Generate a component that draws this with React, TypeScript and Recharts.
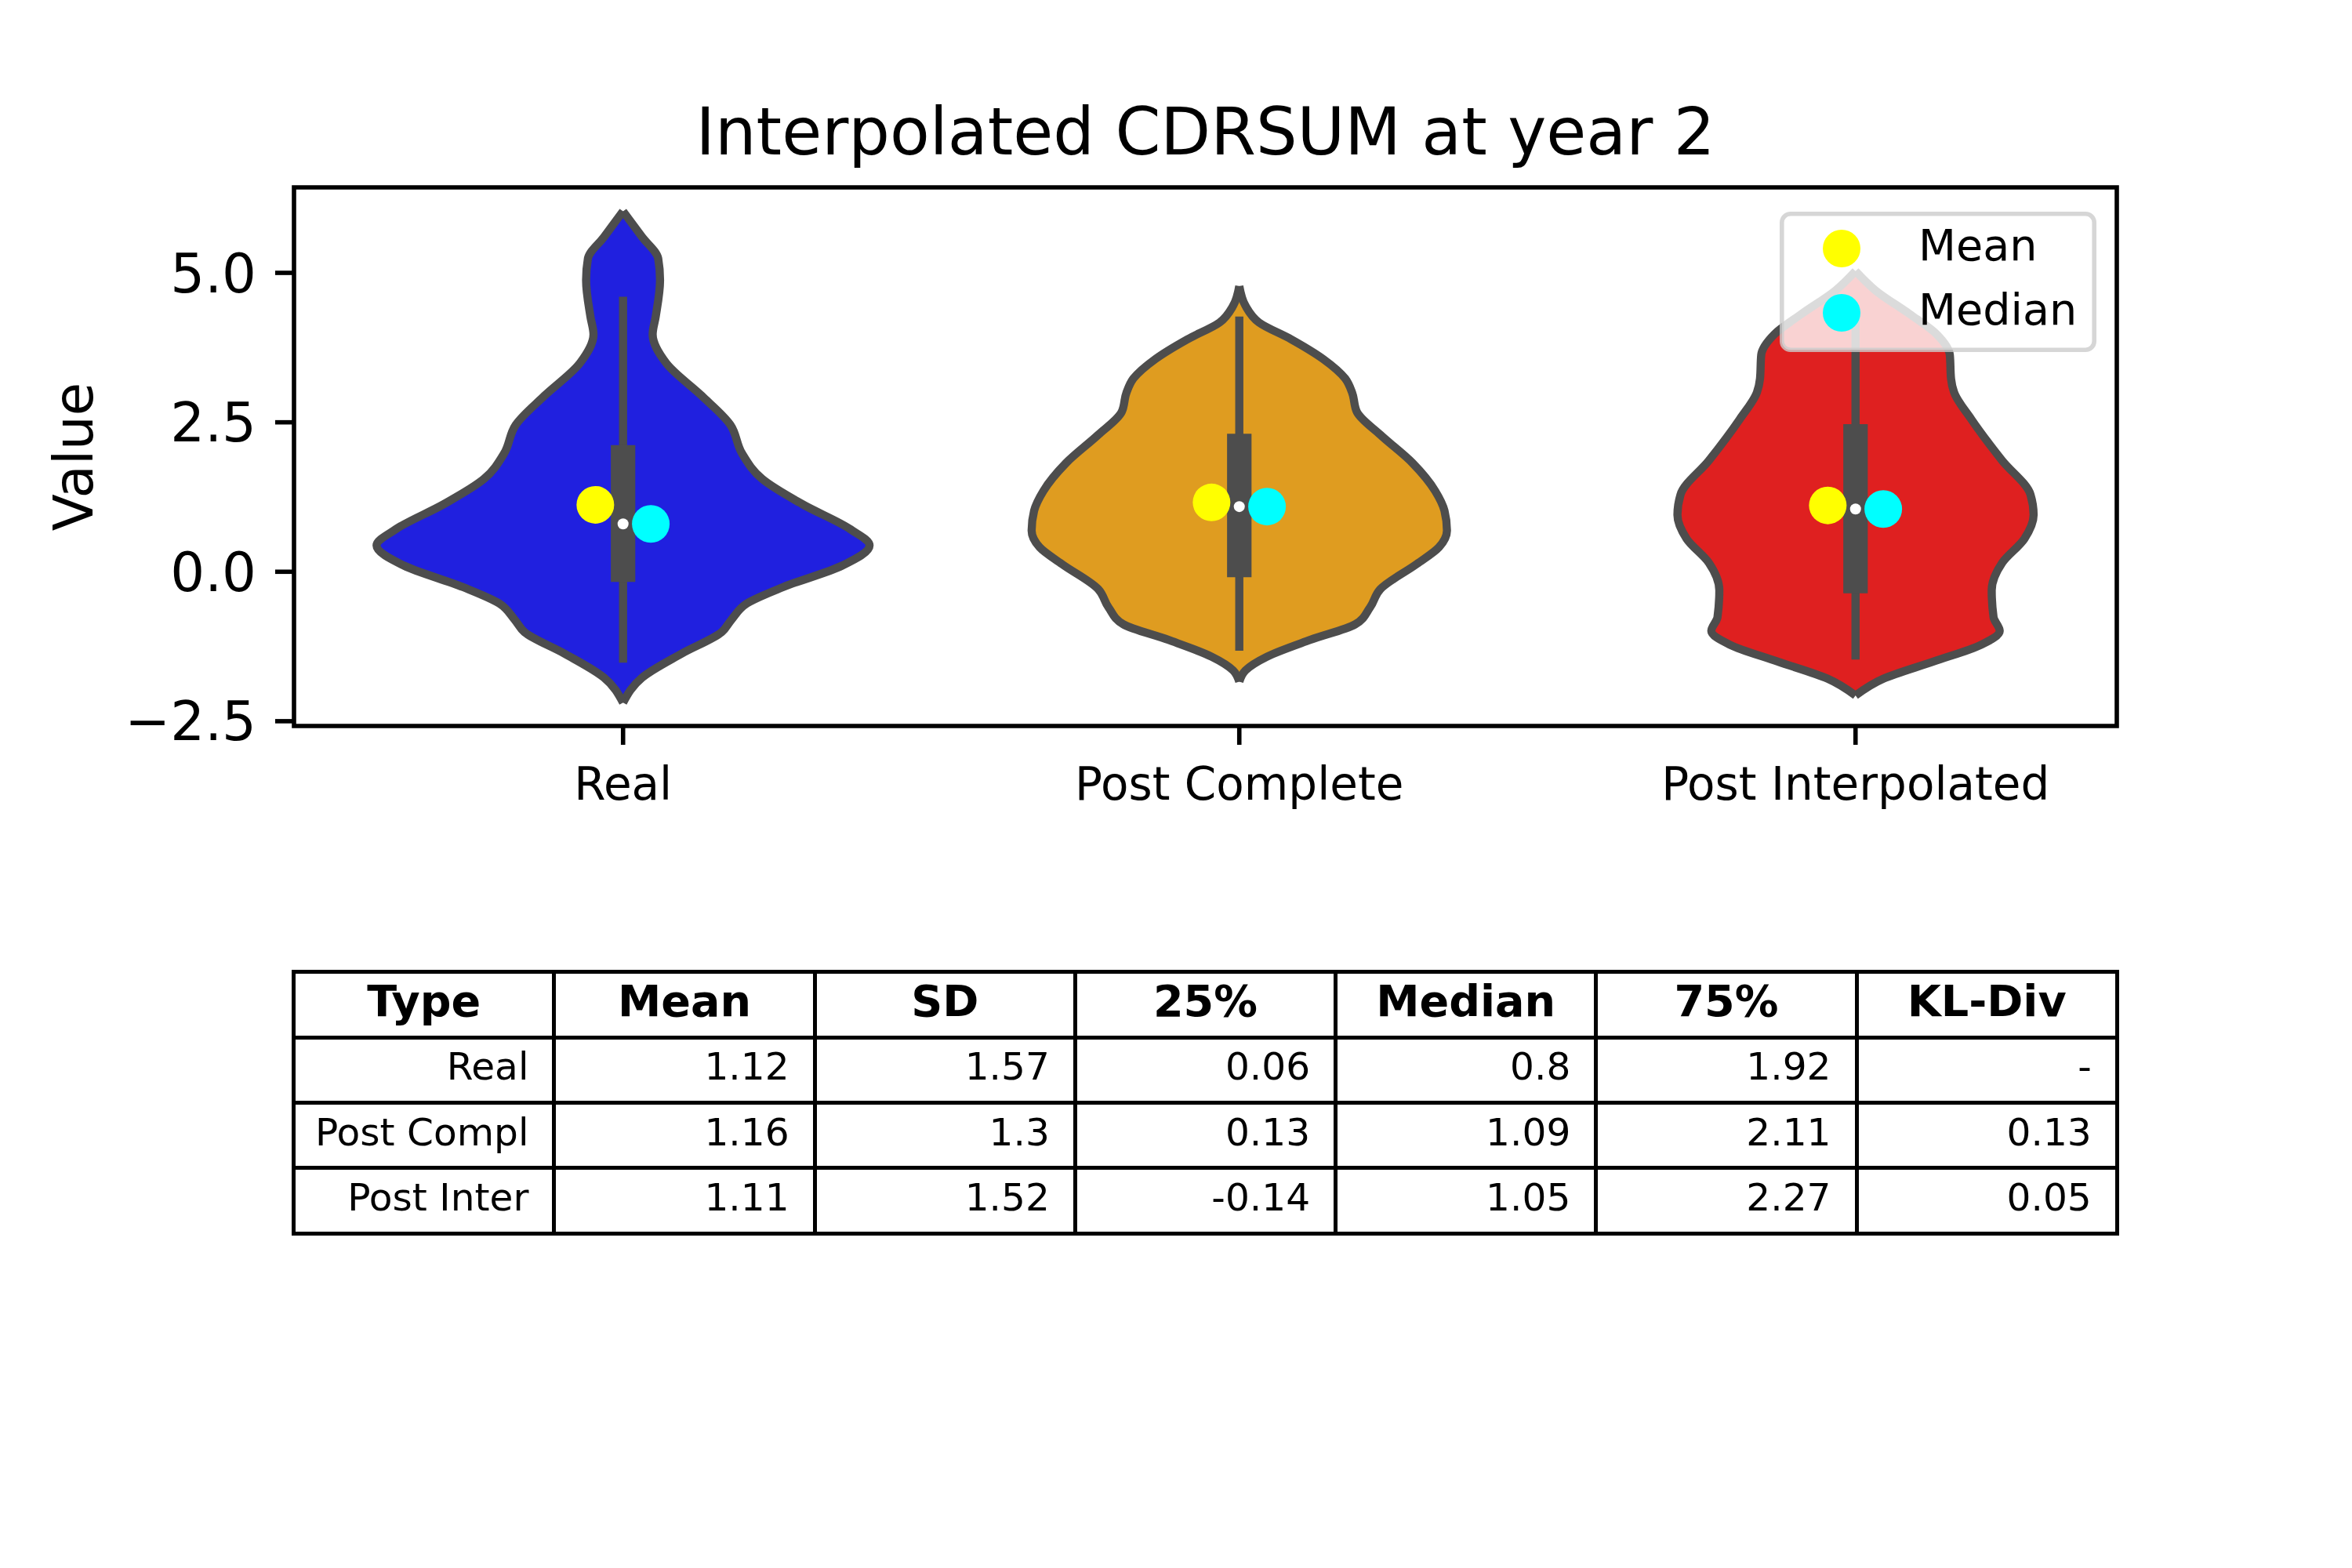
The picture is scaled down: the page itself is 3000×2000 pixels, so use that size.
import {
  ComposedChart,
  Area,
  Line,
  Scatter,
  XAxis,
  YAxis,
  ReferenceArea,
  Legend,
} from "recharts";

const FONT = "'DejaVu Sans', sans-serif";
const GRAY = "#4d4d4d";

const categories = ["Real", "Post Complete", "Post Interpolated"];
const violinColors = ["#2020df", "#df9c20", "#df2020"];
const yTicks = [-2.5, 0, 2.5, 5];

// violin outlines: value -> half width (in category units)
const realV = [-2.19, -1.77, -1.37, -1.01, -0.8, -0.53, -0.256, 0.105, 0.44, 0.71, 1.13, 1.55, 1.98, 2.46, 2.94, 3.49, 3.97, 4.27, 4.88, 5.24, 5.6, 6.03];
const realHalf = [0, 0.031, 0.095, 0.16, 0.176, 0.201, 0.26, 0.356, 0.4, 0.369, 0.291, 0.226, 0.193, 0.174, 0.128, 0.07, 0.048, 0.053, 0.06, 0.057, 0.031, 0];

const complV = [-1.84, -1.65, -1.42, -1.14, -0.88, -0.6, -0.29, 0.13, 0.41, 0.69, 1.02, 1.35, 1.82, 2.29, 2.67, 3.0, 3.23, 3.56, 3.89, 4.17, 4.45, 4.78];
const complHalf = [0, 0.01, 0.045, 0.115, 0.188, 0.212, 0.229, 0.288, 0.324, 0.337, 0.333, 0.318, 0.281, 0.229, 0.191, 0.183, 0.172, 0.136, 0.084, 0.032, 0.01, 0];

const interV = [-2.07, -1.79, -1.5, -1.22, -0.99, -0.76, -0.31, 0.15, 0.55, 0.95, 1.29, 1.86, 2.55, 3.0, 3.23, 3.63, 3.97, 4.31, 4.71, 5.03];
const interHalf = [0, 0.045, 0.127, 0.204, 0.234, 0.224, 0.221, 0.238, 0.274, 0.289, 0.284, 0.238, 0.188, 0.16, 0.155, 0.153, 0.132, 0.088, 0.032, 0];

// inner box plot
const boxLow = [-0.17, -0.09, -0.36];
const boxHigh = [2.12, 2.31, 2.47];
const whiskerLow = [-1.52, -1.32, -1.47];
const whiskerHigh = [4.6, 4.27, 4.4];

// summary table
const tableHeader = ["Type", "Mean", "SD", "25%", "Median", "75%", "KL-Div"];
const typeLabels = ["Real", "Post Compl", "Post Inter"];
const meanVals = ["1.12", "1.16", "1.11"];
const sdVals = ["1.57", "1.3", "1.52"];
const q25Vals = ["0.06", "0.13", "-0.14"];
const medianVals = ["0.8", "1.09", "1.05"];
const q75Vals = ["1.92", "2.11", "2.27"];
const klVals = ["-", "0.13", "0.05"];

const legendItems = [
  { label: "Mean", color: "#ffff00" },
  { label: "Median", color: "#00ffff" },
];

const X_DOMAIN: [number, number] = [-0.534, 2.424];
const Y_DOMAIN: [number, number] = [-2.58, 6.43];
const DOT_SHIFT = 0.045;

const violins = [
  { v: realV, half: realHalf },
  { v: complV, half: complHalf },
  { v: interV, half: interHalf },
].map((s, i) =>
  s.v.map((v, k) => ({ v, range: [i - s.half[k], i + s.half[k]] }))
);

const meanPts = meanVals.map((m, i) => ({ x: i - DOT_SHIFT, v: Number(m) }));
const medianPts = medianVals.map((m, i) => ({ x: i + DOT_SHIFT, v: Number(m) }));
const centerPts = medianVals.map((m, i) => ({ x: i, v: Number(m) }));

const fmtY = (v: number) => (v < 0 ? "\u2212" : "") + Math.abs(v).toFixed(1);

const dotShape = (r: number, fill: string) => (p: any) =>
  <circle cx={p.cx} cy={p.cy} r={r} fill={fill} />;

const LegendBox = () => (
  <svg width={404} height={179} style={{ display: "block" }}>
    <rect
      x={2.8}
      y={2.8}
      width={398.4}
      height={173.4}
      rx={11}
      fill="rgba(255,255,255,0.8)"
      stroke="rgba(204,204,204,0.8)"
      strokeWidth={5.6}
    />
    {legendItems.map((it, i) => (
      <g key={it.label}>
        <circle cx={79} cy={47 + i * 82} r={24} fill={it.color} />
        <text x={177} y={62 + i * 82} fontSize={55.6} fontFamily={FONT} fill="#000">
          {it.label}
        </text>
      </g>
    ))}
  </svg>
);

const tableRows = typeLabels.map((t, i) => [
  t, meanVals[i], sdVals[i], q25Vals[i], medianVals[i], q75Vals[i], klVals[i],
]);

const StatsTable = () => (
  <div
    style={{
      position: "absolute",
      left: 372.2,
      top: 1237.2,
      width: 2330.6,
      height: 338.6,
      boxSizing: "border-box",
      borderLeft: "5.6px solid #000",
      borderTop: "5.6px solid #000",
      display: "grid",
      gridTemplateColumns: "repeat(7, 1fr)",
      gridTemplateRows: "repeat(4, 1fr)",
      fontFamily: FONT,
      color: "#000",
    }}
  >
    {[tableHeader, ...tableRows].map((row, r) =>
      row.map((cell, c) => (
        <div
          key={`${r}-${c}`}
          style={{
            boxSizing: "border-box",
            borderRight: "5.6px solid #000",
            borderBottom: "5.6px solid #000",
            display: "flex",
            alignItems: "center",
            justifyContent: r === 0 ? "center" : "flex-end",
            paddingRight: r === 0 ? 0 : 30,
            paddingBottom: 9,
            fontSize: r === 0 ? 55.6 : 48.6,
            fontWeight: r === 0 ? 700 : 400,
            whiteSpace: "nowrap",
          }}
        >
          {cell}
        </div>
      ))
    )}
  </div>
);

export default function App() {
  return (
    <div
      style={{
        position: "absolute",
        left: 0,
        top: 0,
        width: 3000,
        height: 2000,
        background: "#fff",
        overflow: "hidden",
      }}
    >
      <svg
        width={3000}
        height={239}
        style={{ position: "absolute", left: 0, top: 0 }}
      >
        <text
          x={1537.5}
          y={197}
          textAnchor="middle"
          fontSize={83}
          fontFamily={FONT}
          fill="#000"
        >
          Interpolated CDRSUM at year 2
        </text>
      </svg>

      <div style={{ position: "absolute", left: 0, top: 0 }}>
        <ComposedChart
          width={3000}
          height={1100}
          layout="vertical"
          margin={{ top: 239, right: 300, bottom: 54, left: 75 }}
        >
          <XAxis
            type="number"
            domain={X_DOMAIN}
            allowDataOverflow
            ticks={[0, 1, 2]}
            interval={0}
            tickFormatter={(i: number) => categories[i]}
            axisLine={false}
            tickLine={{ stroke: "#000", strokeWidth: 5.6 }}
            tickSize={24}
            tickMargin={29}
            height={120}
            tick={{ fontSize: 58, fill: "#000", fontFamily: FONT }}
          />
          <YAxis
            type="number"
            dataKey="v"
            reversed
            domain={Y_DOMAIN}
            allowDataOverflow
            ticks={yTicks}
            interval={0}
            tickFormatter={fmtY}
            axisLine={false}
            tickLine={{ stroke: "#000", strokeWidth: 5.6 }}
            tickSize={24}
            tickMargin={24}
            width={300}
            tick={{ fontSize: 69, fill: "#000", fontFamily: FONT }}
            label={{
              content: ({ viewBox }: any) => {
                const cx = viewBox.x + 43;
                const cy = viewBox.y + viewBox.height / 2;
                return (
                  <text
                    x={cx}
                    y={cy}
                    transform={`rotate(-90, ${cx}, ${cy})`}
                    textAnchor="middle"
                    fontSize={69}
                    fontFamily={FONT}
                    fill="#000"
                  >
                    Value
                  </text>
                );
              },
            }}
          />
          <ReferenceArea
            x1={X_DOMAIN[0]}
            x2={X_DOMAIN[1]}
            y1={Y_DOMAIN[0]}
            y2={Y_DOMAIN[1]}
            fill="none"
            stroke="#000"
            strokeWidth={5.6}
            ifOverflow="visible"
          />
          {violins.map((d, i) => (
            <Area
              key={`violin-${i}`}
              data={d}
              dataKey="range"
              type="monotone"
              fill={violinColors[i]}
              fillOpacity={1}
              stroke={GRAY}
              strokeWidth={10.4}
              strokeLinejoin="round"
              dot={false}
              activeDot={false}
              isAnimationActive={false}
            />
          ))}
          {categories.map((c, i) => (
            <Line
              key={`whisker-${c}`}
              data={[
                { v: whiskerLow[i], x: i },
                { v: whiskerHigh[i], x: i },
              ]}
              dataKey="x"
              stroke={GRAY}
              strokeWidth={10.4}
              dot={false}
              activeDot={false}
              isAnimationActive={false}
            />
          ))}
          {categories.map((c, i) => (
            <Line
              key={`box-${c}`}
              data={[
                { v: boxLow[i], x: i },
                { v: boxHigh[i], x: i },
              ]}
              dataKey="x"
              stroke={GRAY}
              strokeWidth={31.2}
              dot={false}
              activeDot={false}
              isAnimationActive={false}
            />
          ))}
          <Scatter
            data={centerPts}
            dataKey="x"
            shape={dotShape(7, "#ffffff")}
            isAnimationActive={false}
          />
          <Scatter
            data={meanPts}
            dataKey="x"
            shape={dotShape(24, legendItems[0].color)}
            isAnimationActive={false}
          />
          <Scatter
            data={medianPts}
            dataKey="x"
            shape={dotShape(24, legendItems[1].color)}
            isAnimationActive={false}
          />
          <Legend
            layout="vertical"
            align="center"
            verticalAlign="middle"
            wrapperStyle={{ left: 2270, top: 270, width: 404, height: 179 }}
            content={() => <LegendBox />}
          />
        </ComposedChart>
      </div>

      <StatsTable />
    </div>
  );
}
